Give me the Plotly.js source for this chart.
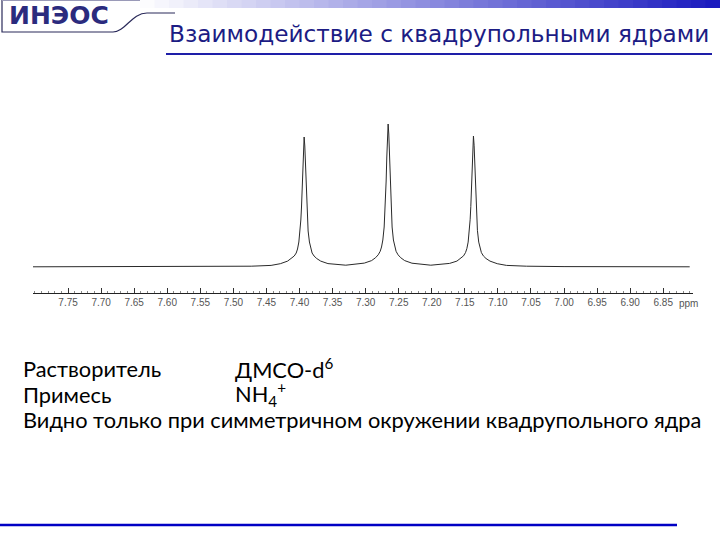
<!DOCTYPE html>
<html>
<head>
<meta charset="utf-8">
<script src="https://cdn.plot.ly/plotly-3.0.1.min.js"></script>
<style>html,body{margin:0;padding:0;background:#fff;}#chart{width:720px;height:540px;}</style>
</head>
<body>
<div id="chart"></div>
<script>
// Spectrum trace (chemical shift, ppm) and intensity
const ppm = [7.803, 7.70, 7.60, 7.52, 7.473, 7.443, 7.429, 7.418, 7.412, 7.408, 7.405, 7.403, 7.401, 7.399, 7.398, 7.397, 7.396, 7.395, 7.394, 7.393, 7.392, 7.391, 7.390, 7.389, 7.388, 7.387, 7.385, 7.383, 7.381, 7.378, 7.374, 7.368, 7.357, 7.33,
  7.302, 7.291, 7.285, 7.281, 7.278, 7.276, 7.274, 7.272, 7.271, 7.270, 7.269, 7.268, 7.267, 7.266, 7.265, 7.264, 7.263, 7.262, 7.261, 7.260, 7.258, 7.256, 7.254, 7.251, 7.247, 7.241, 7.230, 7.2015,
  7.173, 7.162, 7.156, 7.152, 7.149, 7.147, 7.145, 7.143, 7.142, 7.141, 7.140, 7.139, 7.138, 7.137, 7.136, 7.135, 7.134, 7.133, 7.132, 7.131, 7.129, 7.127, 7.125, 7.122, 7.118, 7.112, 7.101, 7.087, 7.057, 7.00, 6.90, 6.810];
const intensity = [0.2, 0.3, 0.4, 0.6, 0.8, 1.6, 3.3, 5.9, 8.5, 11, 14, 18, 25, 36, 47, 60, 78, 100, 121, 130, 121, 100, 78, 60, 47, 36, 25, 18, 14, 11, 8.5, 5.9, 3.4, 1.8,
  3.9, 6.4, 9.3, 12.2, 15.7, 20, 27, 40, 51.5, 66, 86, 110, 133, 143, 133, 110, 86, 66, 51.5, 40, 27, 20, 15.7, 12.2, 9.3, 6.4, 3.8, 1.8,
  3.6, 5.9, 8.5, 11.1, 14.4, 18.3, 24.9, 36.7, 47.2, 60.3, 78.6, 100.9, 121.8, 131, 121.8, 100.9, 78.6, 60.3, 47.2, 36.7, 24.9, 18.3, 14.4, 11.1, 8.5, 5.9, 3.3, 1.6, 0.8, 0.4, 0.2, 0.2];

const tickValues = [7.75, 7.70, 7.65, 7.60, 7.55, 7.50, 7.45, 7.40, 7.35, 7.30, 7.25, 7.20, 7.15, 7.10, 7.05, 7.00, 6.95, 6.90, 6.85];
const tickLabels = ["7.75", "7.70", "7.65", "7.60", "7.55", "7.50", "7.45", "7.40", "7.35", "7.30", "7.25", "7.20", "7.15", "7.10", "7.05", "7.00", "6.95", "6.90", "6.85"];

const slideTitle = "Взаимодействие с квадрупольными ядрами";
const logoText = "ИНЭОС";
const infoLabels = ["Растворитель", "Примесь"];
const infoValues = ["ДМСО-d<sup>6</sup>", "NH<sub>4</sub><sup>+</sup>"];
const noteText = "Видно только при симметричном окружении квадрупольного ядра";
const unitLabel = "ppm";

const W = 720, H = 540;
const px = x => x / W;
const py = y => 1 - y / H;

const shapes = [];
// header gradient bar
const steps = 40, gx0 = 140, gx1 = 720;
for (let i = 0; i < steps; i++) {
  const t = (i + 0.5) / steps;
  const r = Math.round(255 + (24 - 255) * t), g = Math.round(255 + (24 - 255) * t), b = Math.round(255 + (190 - 255) * t);
  shapes.push({type: 'rect', xref: 'paper', yref: 'paper',
    x0: px(gx0 + (gx1 - gx0) * i / steps), x1: px(gx0 + (gx1 - gx0) * (i + 1) / steps + 0.5),
    y0: py(8), y1: py(0), line: {width: 0}, fillcolor: `rgb(${r},${g},${b})`, layer: 'below'});
}
// logo frame
shapes.push({type: 'path', xref: 'paper', yref: 'paper',
  path: `M ${px(2)} ${py(0)} L ${px(2)} ${py(32)} L ${px(113)} ${py(32)} C ${px(125)} ${py(32)}, ${px(132)} ${py(13)}, ${px(147)} ${py(13)} L ${px(175)} ${py(13)}`,
  line: {color: '#2a2a5a', width: 1.2}});
shapes.push({type: 'line', xref: 'paper', yref: 'paper', x0: px(2), x1: px(140), y0: py(0.5), y1: py(0.5), line: {color: '#9a9ab8', width: 1}});
// title underline
shapes.push({type: 'line', xref: 'paper', yref: 'paper', x0: px(166), x1: px(712), y0: py(54), y1: py(54), line: {color: '#1e1ea8', width: 2.2}});
// bottom line
shapes.push({type: 'line', xref: 'paper', yref: 'paper', x0: px(0), x1: px(677), y0: py(525), y1: py(525), line: {color: '#0000c4', width: 2.4}});

const textFont = {family: 'Lato, "Open Sans", sans-serif', size: 21.8, color: '#000'};
const annotations = [
  {text: logoText, xref: 'paper', yref: 'paper', x: px(59), y: py(15), xanchor: 'center', yanchor: 'middle', showarrow: false,
   font: {family: '"DejaVu Sans", sans-serif', size: 25, color: '#2b2b7e', weight: 'bold'}},
  {text: slideTitle, xref: 'paper', yref: 'paper', x: px(167), y: py(33), xanchor: 'left', yanchor: 'middle', showarrow: false,
   font: {family: '"DejaVu Sans", Tahoma, sans-serif', size: 23.2, color: '#1c1c84'}},
  {text: infoLabels[0], xref: 'paper', yref: 'paper', x: px(21), y: py(368), xanchor: 'left', yanchor: 'middle', showarrow: false, font: textFont},
  {text: infoValues[0], xref: 'paper', yref: 'paper', x: px(233), y: py(368), xanchor: 'left', yanchor: 'middle', showarrow: false, font: textFont},
  {text: infoLabels[1], xref: 'paper', yref: 'paper', x: px(21), y: py(394), xanchor: 'left', yanchor: 'middle', showarrow: false, font: textFont},
  {text: infoValues[1], xref: 'paper', yref: 'paper', x: px(233), y: py(394), xanchor: 'left', yanchor: 'middle', showarrow: false, font: textFont},
  {text: noteText, xref: 'paper', yref: 'paper', x: px(21), y: py(419), xanchor: 'left', yanchor: 'middle', showarrow: false, font: textFont},
  {text: unitLabel, xref: 'paper', yref: 'paper', x: px(677), y: py(303), xanchor: 'left', yanchor: 'middle', showarrow: false,
   font: {family: '"Liberation Sans", Arial, sans-serif', size: 10, color: '#555'}}
];

const trace = {x: ppm, y: intensity, type: 'scatter', mode: 'lines', line: {color: '#2a2a2a', width: 1}, hoverinfo: 'skip'};

const layout = {
  width: W, height: H,
  margin: {l: 0, r: 0, t: 0, b: 0},
  paper_bgcolor: '#fff', plot_bgcolor: 'rgba(0,0,0,0)',
  showlegend: false,
  xaxis: {
    domain: [px(33), px(693)],
    range: [7.803, 6.805],
    tickmode: 'array', tickvals: tickValues, ticktext: tickLabels,
    ticks: 'inside', ticklen: 5, tickcolor: '#333', tickwidth: 1,
    minor: {dtick: 0.01, ticks: 'inside', ticklen: 2, tickcolor: '#888'},
    showline: true, linecolor: '#222', linewidth: 1,
    showgrid: false, zeroline: false,
    tickfont: {family: '"Liberation Sans", Arial, sans-serif', size: 10, color: '#555'},
    fixedrange: true
  },
  yaxis: {
    domain: [py(293), py(110)],
    range: [-26, 157],
    visible: false, showgrid: false, zeroline: false, fixedrange: true
  },
  shapes: shapes,
  annotations: annotations
};

Plotly.newPlot('chart', [trace], layout, {displayModeBar: false, staticPlot: true});
</script>
</body>
</html>
